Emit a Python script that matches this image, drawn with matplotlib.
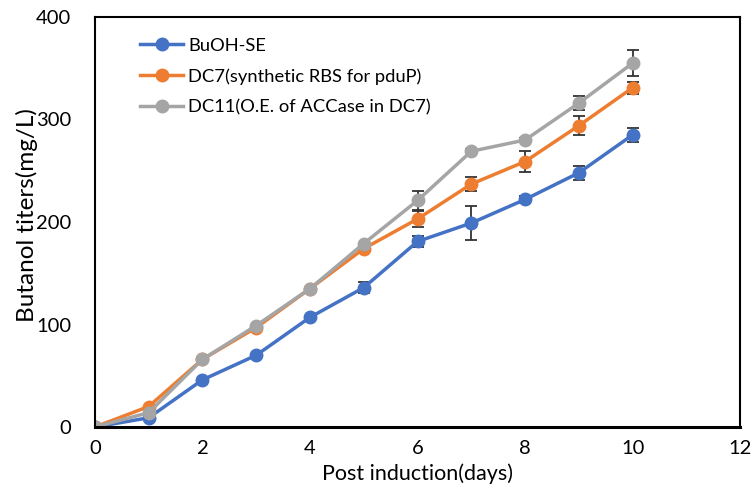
import matplotlib
matplotlib.use("Agg")
import matplotlib.pyplot as plt
import numpy as np

days = [0, 1, 2, 3, 4, 5, 6, 7, 8, 9, 10]

buoh = [0, 9, 46, 70, 107, 136, 181, 199, 222, 248, 285]
buoh_err = [0, 0, 0, 0, 0, 5, 5, 17, 3, 7, 7]

dc7 = [0, 20, 66, 97, 135, 174, 203, 237, 259, 294, 331]
dc7_err = [0, 0, 0, 0, 0, 0, 8, 7, 10, 9, 6]

dc11 = [0, 14, 66, 99, 135, 179, 221, 269, 280, 316, 355]
dc11_err = [0, 0, 0, 0, 0, 0, 9, 2, 2, 7, 13]

labels = ["BuOH-SE", "DC7(synthetic RBS for pduP)", "DC11(O.E. of ACCase in DC7)"]
colors = ["#4472C4", "#ED7D31", "#A5A5A5"]

plt.rcParams['font.family'] = ['Lato', 'DejaVu Sans']

fig = plt.figure(figsize=(7.53, 4.94), dpi=100)
ax = fig.add_axes([0.126, 0.1356, 0.857, 0.83])

for y, e, lab, c in zip([buoh, dc7, dc11], [buoh_err, dc7_err, dc11_err], labels, colors):
    ax.errorbar(days, y, yerr=e, fmt='none', ecolor='#333333',
                elinewidth=1.3, capsize=4, capthick=1.3)
    ax.plot(days, y, color=c, lw=2.5, marker='o', ms=9, label=lab)

ax.set_xlim(0, 12)
ax.set_ylim(0, 400)
ax.set_xticks(range(0, 13, 2))
ax.set_yticks(range(0, 401, 100))
ax.tick_params(axis='both', length=0, labelsize=14.5)
ax.tick_params(axis='y', pad=17)
ax.tick_params(axis='x', pad=9)
for s in ax.spines.values():
    s.set_color('black')
    s.set_linewidth(1.5)
ax.spines['bottom'].set_linewidth(2.2)

ax.set_xlabel("Post induction(days)", fontsize=15.5, labelpad=5)
ax.set_ylabel("Butanol titers(mg/L)", fontsize=17.5)
ax.yaxis.set_label_coords(-0.088, 0.517)

ax.legend(loc='upper left', bbox_to_anchor=(0.045, 0.99), frameon=False,
          fontsize=13.2, handlelength=2.3, handletextpad=0.3, labelspacing=0.8)

fig.savefig("out.png", dpi=100)
